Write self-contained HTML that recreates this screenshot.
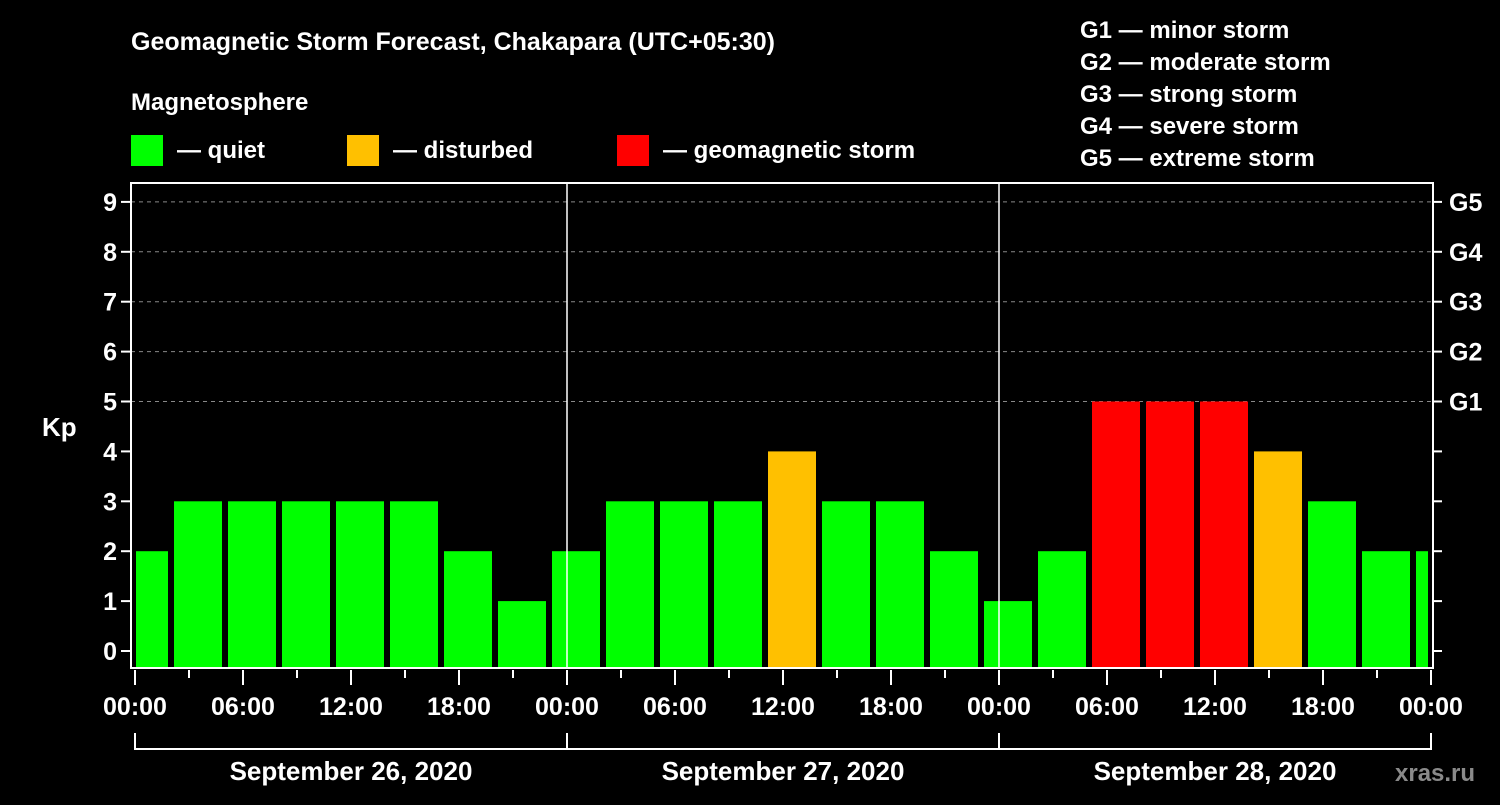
<!DOCTYPE html>
<html><head><meta charset="utf-8"><style>
body{margin:0;background:#000;width:1500px;height:800px;overflow:hidden}
svg text{font-family:"Liberation Sans",Arial,sans-serif;font-weight:bold;fill:#fff}
</style></head><body>
<svg id="chart" width="1500" height="800" viewBox="0 0 1500 800">
<text x="131" y="50" font-size="25">Geomagnetic Storm Forecast, Chakapara (UTC+05:30)</text>
<text x="131" y="110" font-size="24">Magnetosphere</text>
<g><rect x="131" y="135" width="32" height="31" fill="#00ff00"/><text x="177" y="158" font-size="24">— quiet</text></g>
<g><rect x="347" y="135" width="32" height="31" fill="#ffc000"/><text x="393" y="158" font-size="24">— disturbed</text></g>
<g><rect x="617" y="135" width="32" height="31" fill="#ff0000"/><text x="663" y="158" font-size="24">— geomagnetic storm</text></g>
<g font-size="24">
<text x="1080" y="38">G1 — minor storm</text>
<text x="1080" y="70">G2 — moderate storm</text>
<text x="1080" y="102">G3 — strong storm</text>
<text x="1080" y="134">G4 — severe storm</text>
<text x="1080" y="166">G5 — extreme storm</text>
</g>
<text x="42" y="436" font-size="26">Kp</text>
<text x="1395" y="781" font-size="24" fill="#888" style="fill:#8a8a8a">xras.ru</text>
<g id="grid"></g><g id="bars"></g><g id="axes"></g>
</svg>
<script>
const kpValues=[2,3,3,3,3,3,2,1,2,3,3,3,4,3,3,2,1,2,5,5,5,4,3,2,2];
const binStartHours=-1;
const yTicks=[0,1,2,3,4,5,6,7,8,9];
const gLabels=["G1","G2","G3","G4","G5"];
const xTickLabels=["00:00","06:00","12:00","18:00","00:00","06:00","12:00","18:00","00:00","06:00","12:00","18:00","00:00"];
const dayLabels=["September 26, 2020","September 27, 2020","September 28, 2020"];
const NS="http://www.w3.org/2000/svg";
const L=131,R=1433,T=183,B=668;
const x=h=>135+18*h;
const y=v=>651-49.9*v;
function mk(tag,attrs,parent,txt){const e=document.createElementNS(NS,tag);for(const k in attrs)e.setAttribute(k,attrs[k]);if(txt!==undefined)e.textContent=txt;document.getElementById(parent).appendChild(e);return e;}
function color(v){return v>=5?"#ff0000":v>=4?"#ffc000":"#00ff00";}
for(let v=5;v<=9;v++){
 const g=mk("line",{x1:L,x2:R,y1:y(v),y2:y(v),stroke:"#888","stroke-dasharray":"4,4","stroke-width":1},"grid");
 
 
}
kpValues.forEach((v,i)=>{
 const h0=binStartHours+3*i;
 let x0=x(h0)+3,x1=x(h0+3)-3;
 x0=Math.max(x0,L+5);x1=Math.min(x1,R-5);
 const r=mk("rect",{x:x0,y:y(v),width:x1-x0,height:B-y(v),fill:color(v)},"bars");
 
 
});
const fr=mk("path",{d:`M${L} ${T}H${R}V${B}H${L}Z`,fill:"none",stroke:"#fff","stroke-width":2},"axes");


[1,2].forEach(d=>{const l=mk("line",{x1:x(24*d),x2:x(24*d),y1:T,y2:B,stroke:"#fff","stroke-width":1.5},"axes");
 
 });
yTicks.forEach(v=>{
 mk("line",{x1:L-10,x2:L,y1:y(v),y2:y(v),stroke:"#fff","stroke-width":2},"axes");
 mk("line",{x1:R,x2:R+9,y1:y(v),y2:y(v),stroke:"#fff","stroke-width":2},"axes");
 const t=mk("text",{x:L-14,y:y(v)+9,"font-size":25,"text-anchor":"end"},"axes",String(v));
 
 
});
gLabels.forEach((g,i)=>{const t=mk("text",{x:1449,y:y(5+i)+9,"font-size":25},"axes",g);
 
 });
for(let h=0;h<=72;h+=3){mk("line",{x1:x(h),x2:x(h),y1:B+2,y2:h%6==0?B+17:B+10,stroke:"#fff","stroke-width":2},"axes");}
xTickLabels.forEach((s,i)=>{const t=mk("text",{x:x(6*i*1),y:715,"font-size":25,"text-anchor":"middle"},"axes",s);
 t.setAttribute('x',x(6*i));
 
 });
mk("path",{d:`M${x(0)} 733V749H${x(72)}V733M${x(24)} 733V749M${x(48)} 733V749`,fill:"none",stroke:"#fff","stroke-width":2},"axes");
dayLabels.forEach((s,i)=>{const t=mk("text",{x:x(24*i+12),y:780,"font-size":26,"text-anchor":"middle"},"axes",s);
 
 });
</script>
</body></html>
